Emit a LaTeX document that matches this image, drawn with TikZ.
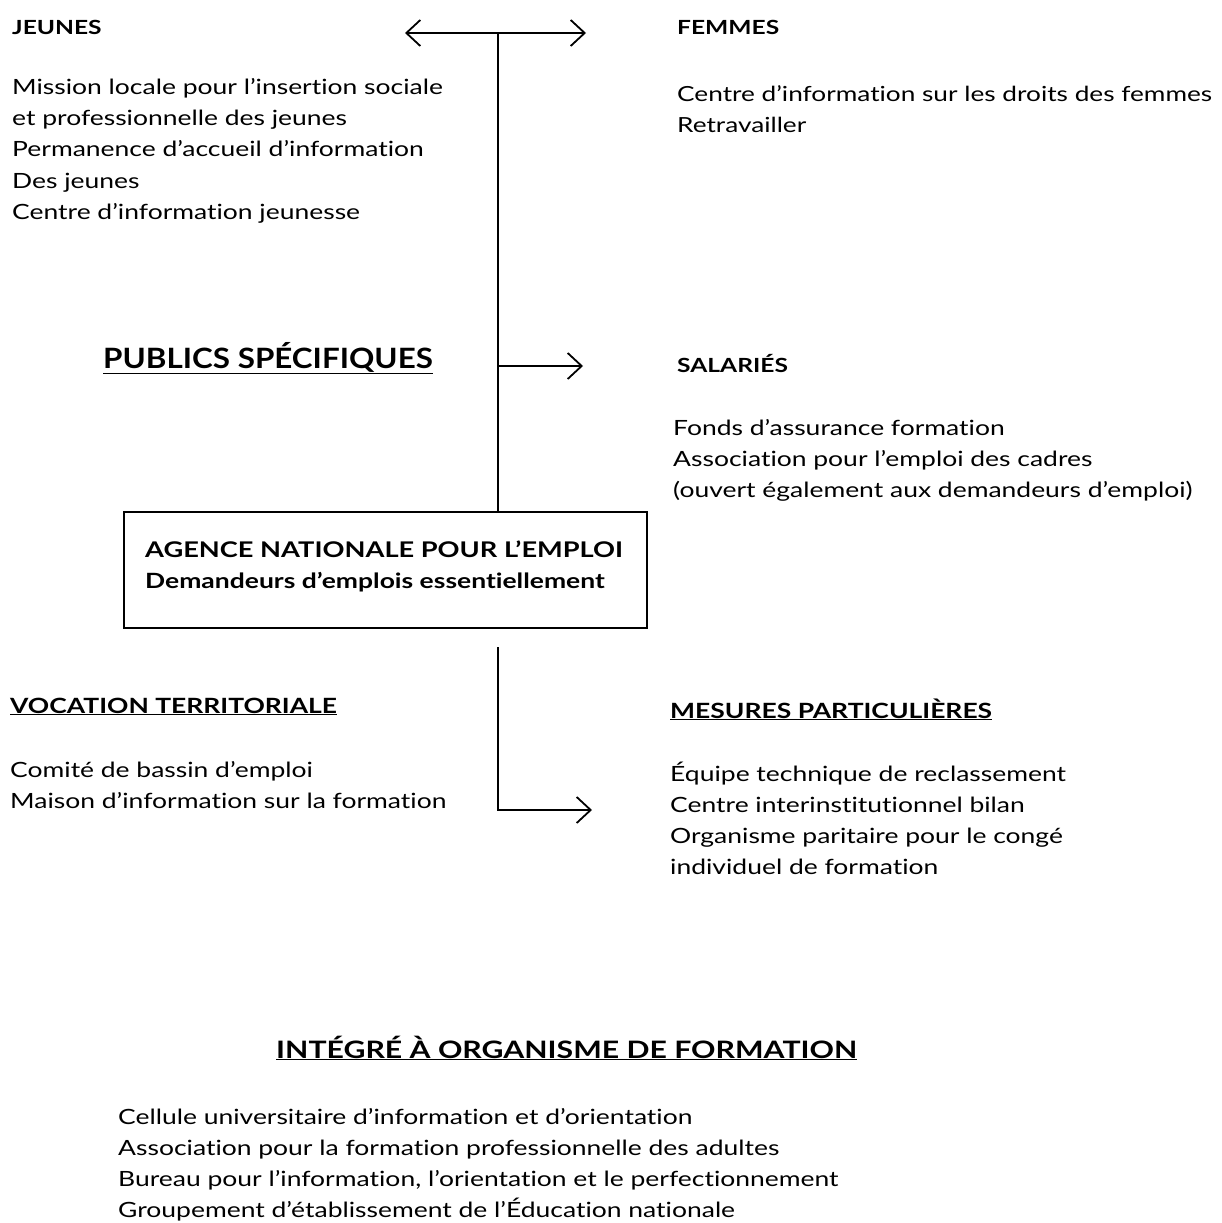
\documentclass[tikz,border=0pt]{standalone}
\usepackage{fontspec}
\setmainfont{Lato}[FakeStretch=1.26,Ligatures=NoCommon]
\newfontfamily\pubfont{Lato}[FakeStretch=1.12,Ligatures=NoCommon]
\usetikzlibrary{arrows.meta}
\newcommand\blk[2][31pt]{\vtop{\baselineskip=#1\lineskiplimit=-100pt\halign{##\hfil\cr#2\crcr}}}
\begin{document}
\begin{tikzpicture}[x=1pt,y=-1pt,
  txt/.style={anchor=base west,inner sep=0pt,font=\fontsize{21}{31}\selectfont},
  head/.style={anchor=base west,inner sep=0pt,font=\fontsize{21}{31}\selectfont\bfseries},
  caphead/.style={anchor=base west,inner sep=0pt,font=\fontsize{19.5}{31}\selectfont\bfseries},
  big/.style={anchor=base west,inner sep=0pt,font=\pubfont\fontsize{28}{34}\selectfont\bfseries},
  bigb/.style={anchor=base west,inner sep=0pt,font=\fontsize{24}{31}\selectfont\bfseries},
  conn/.style={line width=1.8pt},
  arr/.style={conn,-{Straight Barb[length=14pt,width=26pt,line width=1.8pt]}}]
\useasboundingbox (0,0) rectangle (1222,1223);
% headers and lists
\node[caphead] (jeunes) at (12,35) {JEUNES};
\node[txt] (jeuneslist) at (12,95) {\blk{Mission locale pour l’insertion sociale\cr
et professionnelle des jeunes\cr
Permanence d’accueil d’information\cr
Des jeunes\cr
Centre d’information jeunesse}};
\node[caphead] (femmes) at (677,35) {FEMMES};
\node[txt,font=\fontsize{20.8}{31}\selectfont] (femmeslist) at (677,101) {\blk{Centre d’information sur les droits des femmes\cr
Retravailler}};
\node[big] (publics) at (103,368) {\underline{PUBLICS SPÉCIFIQUES}};
\node[caphead] (salaries) at (677,372) {SALARIÉS};
\node[txt] (salarieslist) at (673,435) {\blk{Fonds d’assurance formation\cr
Association pour l’emploi des cadres\cr
(ouvert également aux demandeurs d’emploi)}};
\node[draw,line width=1.8pt,minimum width=523pt,minimum height=116pt,inner sep=0pt] (anpe) at (385.5,570) {};
\node[head,font=\fontsize{21.6}{31}\selectfont\bfseries] (anpe1) at (145,557) {AGENCE NATIONALE POUR L’EMPLOI};
\node[head] (anpe2) at (145,588) {Demandeurs d’emplois essentiellement};
\node[head] (vocation) at (10,713) {\underline{VOCATION TERRITORIALE}};
\node[txt] (vocationlist) at (10,777) {\blk{Comité de bassin d’emploi\cr
Maison d’information sur la formation}};
\node[head] (mesures) at (670,718) {\underline{MESURES PARTICULIÈRES}};
\node[txt] (mesureslist) at (670,781) {\blk{Équipe technique de reclassement\cr
Centre interinstitutionnel bilan\cr
Organisme paritaire pour le congé\cr
individuel de formation}};
\node[bigb] (integre) at (276,1058) {\underline{INTÉGRÉ À ORGANISME DE FORMATION}};
\node[txt] (integrelist) at (118,1124) {\blk[31pt]{Cellule universitaire d’information et d’orientation\cr
Association pour la formation professionnelle des adultes\cr
Bureau pour l’information, l’orientation et le perfectionnement\cr
Groupement d’établissement de l’Éducation nationale}};
% connectors
\coordinate (topj) at (498,33);
\coordinate (tojeunes) at (405,33);
\coordinate (tofemmes) at (586,33);
\coordinate (midj) at (498,366);
\coordinate (tosalaries) at (583,366);
\coordinate (lowtop) at (498,647);
\coordinate (lowcorner) at (498,810);
\coordinate (tomesures) at (592,810);
\draw[arr] (topj) -- (tojeunes);
\draw[arr] (topj) -- (tofemmes);
\draw[conn] (topj) -- (topj |- anpe.north);
\draw[arr] (midj) -- (tosalaries);
\draw[arr] (lowtop) -- (lowcorner) -- (tomesures);
\end{tikzpicture}
\end{document}
